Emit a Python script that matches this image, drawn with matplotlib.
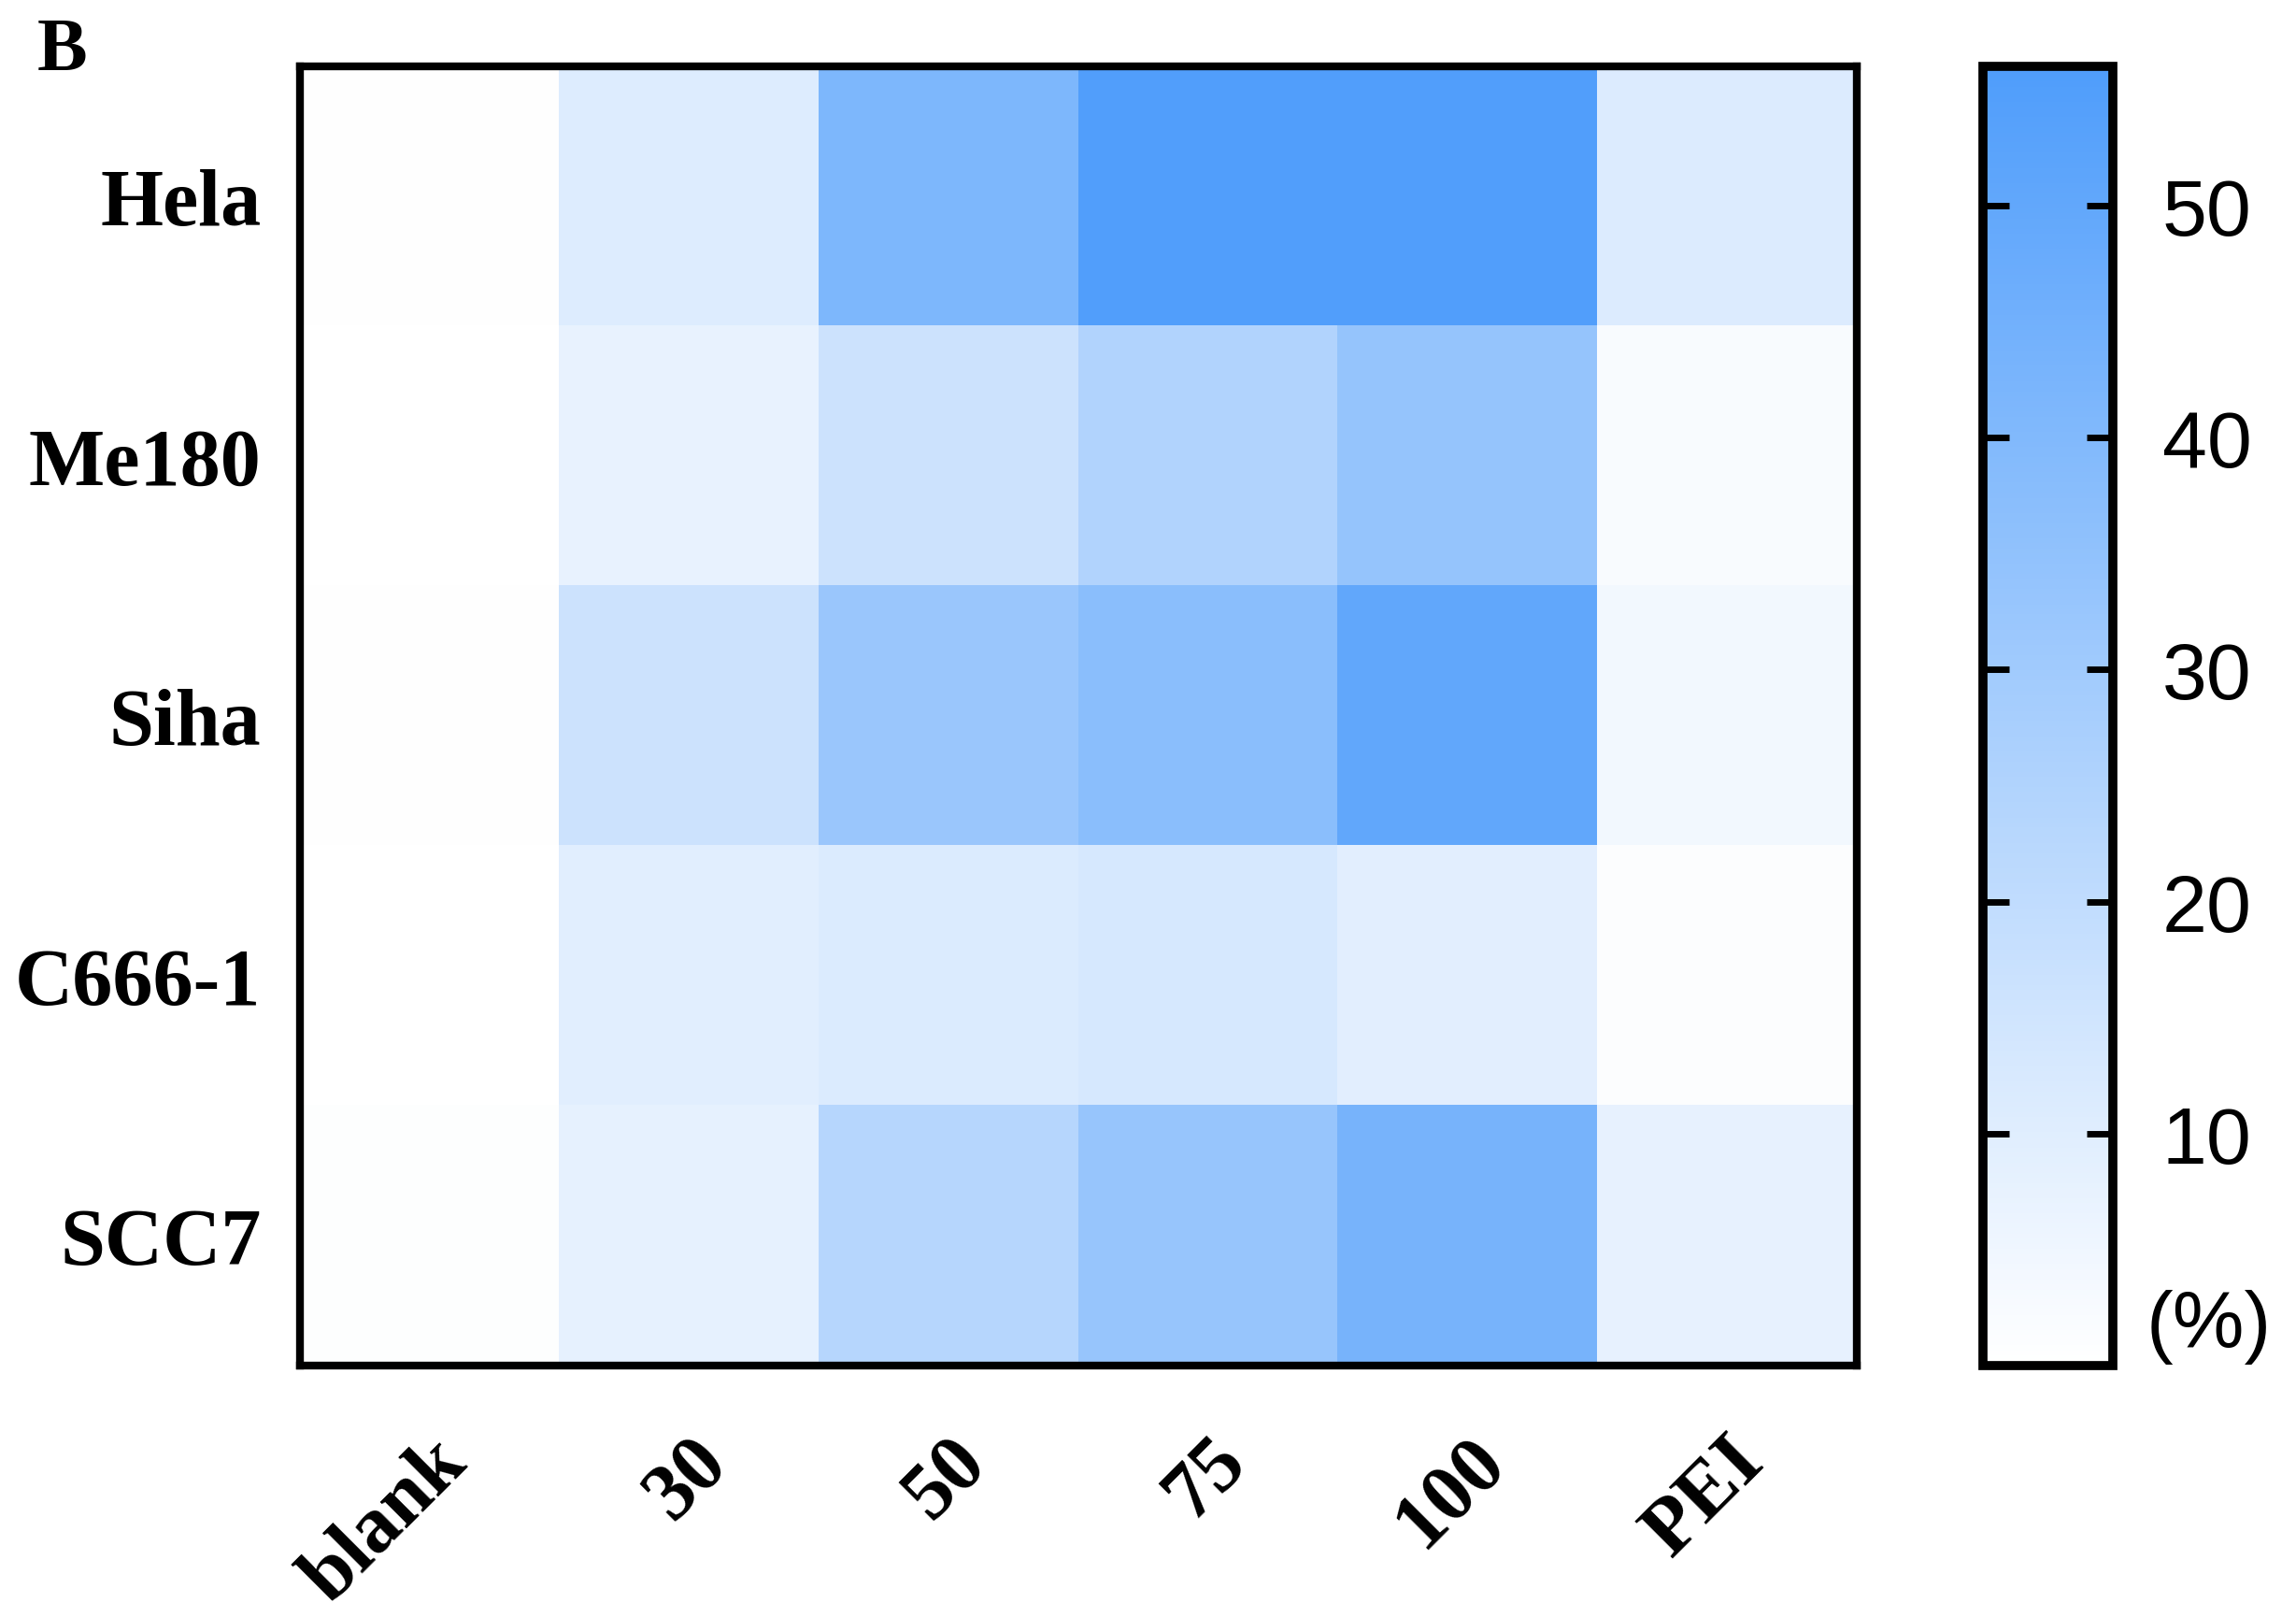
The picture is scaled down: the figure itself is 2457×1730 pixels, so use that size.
import numpy as np
import matplotlib
matplotlib.use('Agg')
import matplotlib.pyplot as plt
from matplotlib.colors import LinearSegmentedColormap

cell_lines = ['Hela', 'Me180', 'Siha', 'C666-1', 'SCC7']
groups = ['blank', '30', '50', '75', '100', 'PEI']

# transfection efficiency (%)
hela = [0.3, 10.5, 41, 55, 55, 11]
me180 = [0.2, 7, 16, 24.5, 33.5, 2]
siha = [0.3, 16, 32, 37, 50, 4]
c666 = [0.2, 9.5, 11.5, 13, 9.3, 1]
scc7 = [0.5, 8, 23, 33, 43, 7.5]

vals = np.array([hela, me180, siha, c666, scc7])
vmin, vmax = 0, 56
cbar_ticks = [10, 20, 30, 40, 50]

cmap = LinearSegmentedColormap.from_list('wb', ['#ffffff', '#4f9dfb'])

fig = plt.figure(figsize=(24.57, 17.31), dpi=100)
ax = fig.add_axes([0.1307, 0.1554, 0.678, 0.803])
cax = fig.add_axes([0.8637, 0.1554, 0.0566, 0.803])

im = ax.imshow(vals, cmap=cmap, vmin=vmin, vmax=vmax, aspect='auto',
               interpolation='nearest')

serif = {'family': 'Liberation Serif', 'weight': 'bold', 'size': 62}
ax.set_yticks(range(len(cell_lines)))
ax.set_yticklabels(cell_lines, fontdict=serif)
ax.set_xticks(range(len(groups)))
ax.set_xticklabels(groups, fontdict=serif, rotation=45, ha='right',
                   va='top', rotation_mode='anchor')
ax.tick_params(axis='both', length=0)
ax.tick_params(axis='y', pad=30)
ax.tick_params(axis='x', pad=45)
for s in ax.spines.values():
    s.set_linewidth(6)

cb = fig.colorbar(im, cax=cax, ticks=cbar_ticks)
cb.outline.set_linewidth(7)
cax.tick_params(direction='in', left=True, right=True, length=20, width=5,
                labelsize=62, pad=38)
for t in cax.get_yticklabels():
    t.set_fontfamily('Liberation Sans')
cax.text(1.74, 0.03, '(%)', transform=cax.transAxes, ha='center', va='center',
         fontsize=62, family='Liberation Sans')

fig.text(0.016, 0.968, 'B', fontsize=58, fontweight='bold',
         family='Liberation Serif', ha='left', va='center')

fig.savefig('out.png', dpi=100, facecolor='white')
